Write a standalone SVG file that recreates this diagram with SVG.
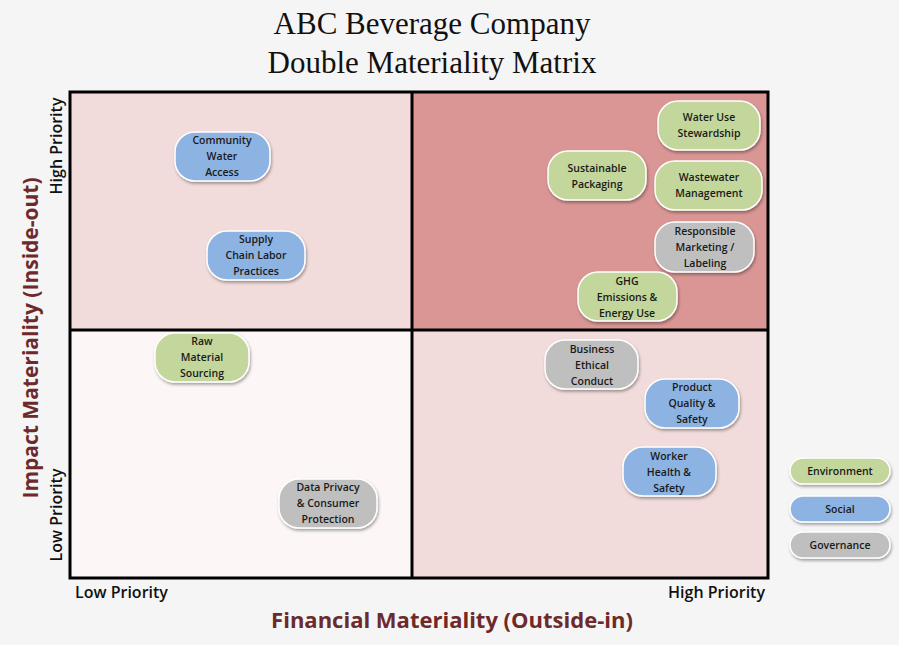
<svg xmlns="http://www.w3.org/2000/svg" width="899" height="645" viewBox="0 0 899 645">
<defs>
<style>
.b{stroke:#fff;stroke-width:1.5;filter:url(#sh)}
.g{fill:#c3d69b}.s{fill:#8db3e2}.v{fill:#bfbfbf}
.t{font-family:"Open Sans","Liberation Sans",sans-serif;font-size:10.5px;font-weight:600;fill:#1a1a1a;text-anchor:middle}
.ax{font-family:"Open Sans","Liberation Sans",sans-serif;font-weight:bold;fill:#6e2a2a;text-anchor:middle}
.pl{font-family:"Open Sans","Liberation Sans",sans-serif;font-weight:600;font-size:16px;fill:#111}
</style>
<filter id="sh" x="-20%" y="-20%" width="140%" height="150%"><feDropShadow dx="1" dy="2" stdDeviation="1.5" flood-color="#000" flood-opacity="0.35"/></filter>
</defs>
<rect width="899" height="645" fill="#f5f5f5"/>
<g id="title" font-family="'Liberation Serif',serif" font-size="31" text-anchor="middle" fill="#111">
<text x="432" y="34">ABC Beverage Company</text>
<text x="432" y="73">Double Materiality Matrix</text>
</g>
<g id="matrix">
<rect x="70" y="92" width="342" height="238" fill="#f2dcdb"/>
<rect x="412" y="92" width="356" height="238" fill="#d99694"/>
<rect x="70" y="330" width="342" height="248" fill="#fdf6f6"/>
<rect x="412" y="330" width="356" height="248" fill="#f2dcdb"/>
<rect x="70" y="92" width="698" height="486" fill="none" stroke="#000" stroke-width="3"/>
<line x1="412" y1="92" x2="412" y2="578" stroke="#000" stroke-width="3"/>
<line x1="70" y1="330" x2="768" y2="330" stroke="#000" stroke-width="3"/>
</g>
<g id="axes">
<text class="pl" x="75" y="598">Low Priority</text>
<text class="pl" x="765" y="598" text-anchor="end">High Priority</text>
<text class="ax" x="452" y="628" font-size="22">Financial Materiality (Outside-in)</text>
<text class="ax" transform="translate(38,338) rotate(-90)" font-size="21">Impact Materiality (Inside-out)</text>
<text class="pl" transform="translate(62,146) rotate(-90)" text-anchor="middle">High Priority</text>
<text class="pl" transform="translate(62,515) rotate(-90)" text-anchor="middle">Low Priority</text>
</g>
<g id="n1"><rect class="b s" x="175" y="132" width="95" height="49" rx="20"/><text class="t" x="222" y="144">Community<tspan x="222" dy="16">Water</tspan><tspan x="222" dy="16">Access</tspan></text></g>
<g id="n2"><rect class="b s" x="207" y="231" width="98" height="49" rx="20"/><text class="t" x="256" y="243">Supply<tspan x="256" dy="16">Chain Labor</tspan><tspan x="256" dy="16">Practices</tspan></text></g>
<g id="n3"><rect class="b g" x="155" y="333" width="94" height="49" rx="20"/><text class="t" x="202" y="345">Raw<tspan x="202" dy="16">Material</tspan><tspan x="202" dy="16">Sourcing</tspan></text></g>
<g id="n4"><rect class="b v" x="279" y="479" width="98" height="49" rx="20"/><text class="t" x="328" y="491">Data Privacy<tspan x="328" dy="16">&amp; Consumer</tspan><tspan x="328" dy="16">Protection</tspan></text></g>
<g id="n5"><rect class="b g" x="548" y="151" width="98" height="49" rx="20"/><text class="t" x="597" y="172">Sustainable<tspan x="597" dy="16">Packaging</tspan></text></g>
<g id="n6"><rect class="b g" x="658" y="101" width="102" height="49" rx="20"/><text class="t" x="709" y="121">Water Use<tspan x="709" dy="16">Stewardship</tspan></text></g>
<g id="n7"><rect class="b g" x="655" y="161" width="107" height="49" rx="20"/><text class="t" x="709" y="181">Wastewater<tspan x="709" dy="16">Management</tspan></text></g>
<g id="n8"><rect class="b v" x="655" y="222" width="99" height="50" rx="20"/><text class="t" x="705" y="235">Responsible<tspan x="705" dy="16">Marketing /</tspan><tspan x="705" dy="16">Labeling</tspan></text></g>
<g id="n9"><rect class="b g" x="578" y="272" width="99" height="49" rx="20"/><text class="t" x="627" y="285">GHG<tspan x="627" dy="16">Emissions &amp;</tspan><tspan x="627" dy="16">Energy Use</tspan></text></g>
<g id="n10"><rect class="b v" x="545" y="340" width="93" height="49" rx="20"/><text class="t" x="592" y="353">Business<tspan x="592" dy="16">Ethical</tspan><tspan x="592" dy="16">Conduct</tspan></text></g>
<g id="n11"><rect class="b s" x="645" y="379" width="94" height="49" rx="20"/><text class="t" x="692" y="391">Product<tspan x="692" dy="16">Quality &amp;</tspan><tspan x="692" dy="16">Safety</tspan></text></g>
<g id="n12"><rect class="b s" x="623" y="447" width="93" height="49" rx="20"/><text class="t" x="669" y="460">Worker<tspan x="669" dy="16">Health &amp;</tspan><tspan x="669" dy="16">Safety</tspan></text></g>
<g id="legend">
<rect class="b g" x="790" y="458" width="100" height="26" rx="13"/><text class="t" x="840" y="475">Environment</text>
<rect class="b s" x="790" y="496" width="100" height="26" rx="13"/><text class="t" x="840" y="513">Social</text>
<rect class="b v" x="790" y="532" width="100" height="26" rx="13"/><text class="t" x="840" y="549">Governance</text>
</g>
<g id="connectors"/>
</svg>
